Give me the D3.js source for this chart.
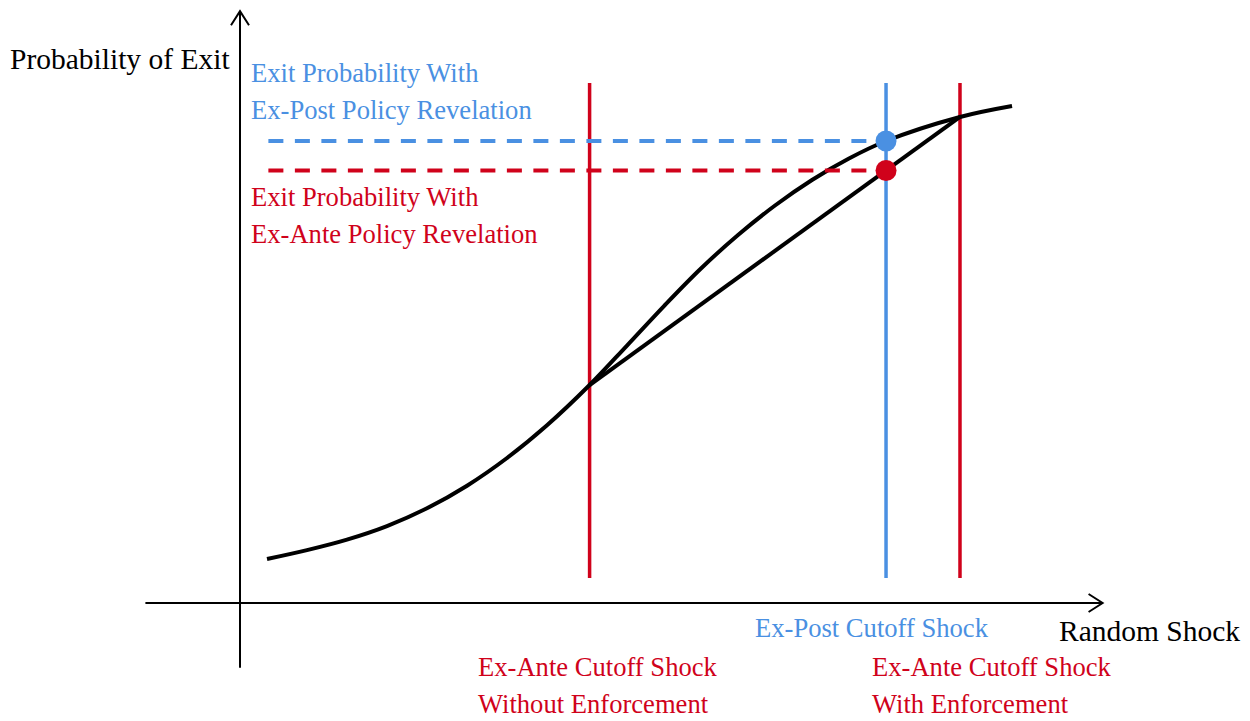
<!DOCTYPE html>
<html><head><meta charset="utf-8">
<script src="https://cdn.jsdelivr.net/npm/d3@7"></script>
<style>html,body{margin:0;padding:0;background:#fff;}svg{display:block;}</style>
</head><body>
<script>
// ---- data (x: random shock, 0-100 ; y: probability of exit, 0-1) ----
const curveX = [3.14, 7.79, 12.44, 17.09, 21.74, 26.40, 31.05, 35.70, 40.65, 45.00, 49.30, 53.60, 57.91, 62.21, 66.51, 70.81, 75.12, 83.72, 89.77];
const curveY = [0.0742, 0.0892, 0.1069, 0.1297, 0.1597, 0.1978, 0.2445, 0.2997, 0.3676, 0.4342, 0.5008, 0.5641, 0.6206, 0.6703, 0.7133, 0.7496, 0.7791, 0.8196, 0.8381];
const cutoffNames = ["exAnteNoEnf", "exPost", "exAnteEnf"];
const cutoffX = [40.65, 75.12, 83.72];
const cutoffColors = ["#D0021B", "#4A90E2", "#D0021B"];
const cutoffYRange = [0.042, 0.877];
const dashStartX = 3.3;
const axisLabels = ["Probability of Exit", "Random Shock"];
const blueLabel = ["Exit Probability With", "Ex-Post Policy Revelation"];
const redLabel = ["Exit Probability With", "Ex-Ante Policy Revelation"];
const bottomLabels = [
  {lines: ["Ex-Ante Cutoff Shock", "Without Enforcement"], color: "#D0021B"},
  {lines: ["Ex-Post Cutoff Shock"], color: "#4A90E2"},
  {lines: ["Ex-Ante Cutoff Shock", "With Enforcement"], color: "#D0021B"}
];

const W = 1250, H = 721;
const svg = d3.select("body").append("svg").attr("width", W).attr("height", H);
const x = d3.scaleLinear().domain([0, 100]).range([240, 1100]);
const y = d3.scaleLinear().domain([0, 1]).range([603, 10]);
const font = "'Liberation Serif', 'Times New Roman', serif";

// axes
svg.append("line").attr("x1", x(-11)).attr("x2", x(100.3)).attr("y1", y(0)).attr("y2", y(0))
  .attr("stroke", "#000").attr("stroke-width", 2);
svg.append("line").attr("x1", x(0)).attr("x2", x(0)).attr("y1", y(-0.109)).attr("y2", y(0.998))
  .attr("stroke", "#000").attr("stroke-width", 2);
// arrow heads
svg.append("path").attr("d", `M${x(100.3)-14},${y(0)-9} L${x(100.3)},${y(0)} L${x(100.3)-14},${y(0)+9}`)
  .attr("fill", "none").attr("stroke", "#000").attr("stroke-width", 2);
svg.append("path").attr("d", `M${x(0)-9},${y(0.998)+14} L${x(0)},${y(0.998)} L${x(0)+9},${y(0.998)+14}`)
  .attr("fill", "none").attr("stroke", "#000").attr("stroke-width", 2);

// cutoff vertical lines
cutoffX.forEach((cx, i) => {
  svg.append("line").attr("x1", x(cx)).attr("x2", x(cx))
    .attr("y1", y(cutoffYRange[0])).attr("y2", y(cutoffYRange[1]))
    .attr("stroke", cutoffColors[i]).attr("stroke-width", 3.5);
});

// curve
const pts = curveX.map((v, i) => [v, curveY[i]]);
const line = d3.line().x(d => x(d[0])).y(d => y(d[1])).curve(d3.curveCatmullRom.alpha(0.5));
svg.append("path").attr("d", line(pts)).attr("fill", "none").attr("stroke", "#000").attr("stroke-width", 4);

// chord from ex-ante (no enforcement) to ex-ante (with enforcement)
const i0 = curveX.indexOf(cutoffX[0]), i2 = curveX.indexOf(cutoffX[2]);
const chord = [[cutoffX[0], curveY[i0]], [cutoffX[2], curveY[i2]]];
svg.append("path").attr("d", d3.line().x(d => x(d[0])).y(d => y(d[1]))(chord))
  .attr("fill", "none").attr("stroke", "#000").attr("stroke-width", 4);

// dot values
const blueY = curveY[curveX.indexOf(cutoffX[1])];
const redY = chord[0][1] + (chord[1][1] - chord[0][1]) * (cutoffX[1] - chord[0][0]) / (chord[1][0] - chord[0][0]);

// dashed lines
[[blueY, "#4A90E2"], [redY, "#D0021B"]].forEach(([v, c]) => {
  svg.append("line").attr("x1", x(dashStartX)).attr("x2", x(cutoffX[1]))
    .attr("y1", y(v)).attr("y2", y(v))
    .attr("stroke", c).attr("stroke-width", 4).attr("stroke-dasharray", "15,11.5");
});
svg.append("circle").attr("cx", x(cutoffX[1])).attr("cy", y(blueY)).attr("r", 10.5).attr("fill", "#4A90E2");
svg.append("circle").attr("cx", x(cutoffX[1])).attr("cy", y(redY)).attr("r", 10.5).attr("fill", "#D0021B");

// texts
function txt(s, tx, ty, color, size) {
  svg.append("text").attr("x", tx).attr("y", ty).attr("fill", color)
    .attr("font-family", font).attr("font-size", size).text(s);
}
txt(axisLabels[0], 10, 69, "#000", 29.5);
txt(axisLabels[1], 1059, 641, "#000", 29.5);
blueLabel.forEach((s, i) => txt(s, 251, 82 + i * 37, "#4A90E2", 26.6));
redLabel.forEach((s, i) => txt(s, 251, 206 + i * 37, "#D0021B", 26.6));
const bx = [478, 755, 872], by = [676, 637, 676];
bottomLabels.forEach((b, k) => b.lines.forEach((s, i) => txt(s, bx[k], by[k] + i * 37, b.color, 26.6)));
</script>
</body></html>
